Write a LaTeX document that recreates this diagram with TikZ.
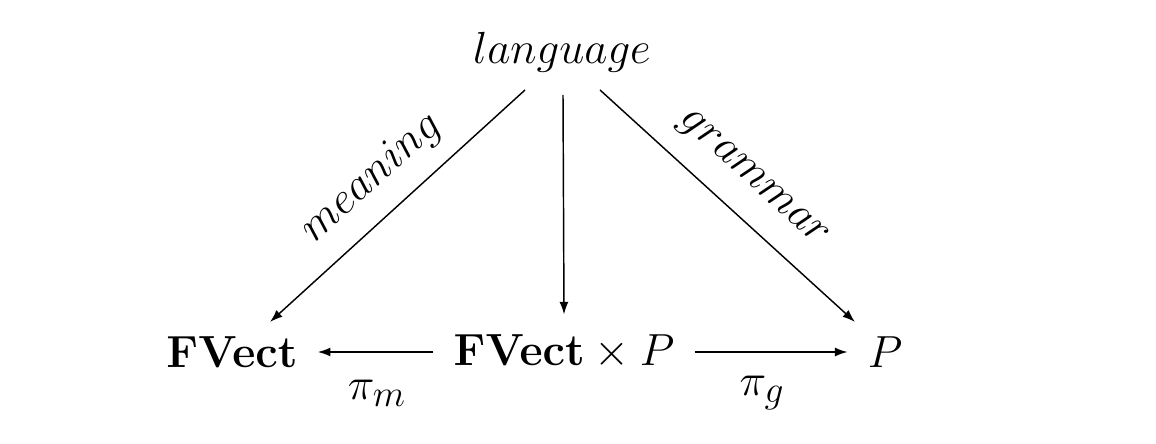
\documentclass[tikz,border=0pt]{standalone}
\usepackage{amsmath}
\usetikzlibrary{arrows.meta}
\begin{document}
\begin{tikzpicture}[x=0.553pt,y=-0.553pt,
  lab/.style={font=\fontsize{28}{34}\selectfont},
  arr/.style={-{Latex[length=7pt,width=5pt]},line width=0.8pt}]
\useasboundingbox (0,0) rectangle (1156,444);
\node[lab,inner sep=11pt] (L) at (562,52) {$language$};
\node[lab,inner sep=11pt] (F) at (232,352) {$\mathbf{FVect}$};
\node[lab,inner sep=11pt] (FP) at (564,352) {$\mathbf{FVect}\times P$};
\node[lab,inner sep=11pt] (P) at (885,352) {$P$};
\coordinate (l1) at (525,90);
\coordinate (l2) at (563,95);
\coordinate (l3) at (600,90);
\coordinate (f1) at (270,322);
\coordinate (p1) at (855,322);
\draw[arr] (l1) -- (f1);
\draw[arr] (l2) -- (FP.north);
\draw[arr] (l3) -- (p1);
\draw[arr] (FP.west) -- (F.east);
\draw[arr] (FP.east) -- (P.west);
\node[lab] (pm) at (377,393) {$\pi_m$};
\node[lab] (pg) at (762,393) {$\pi_g$};
\node[lab,rotate=42,inner sep=0pt] (me) at (372,178) {$meaning$};
\node[lab,rotate=-42,inner sep=0pt] (gr) at (752,180) {$grammar$};
\end{tikzpicture}
\end{document}
